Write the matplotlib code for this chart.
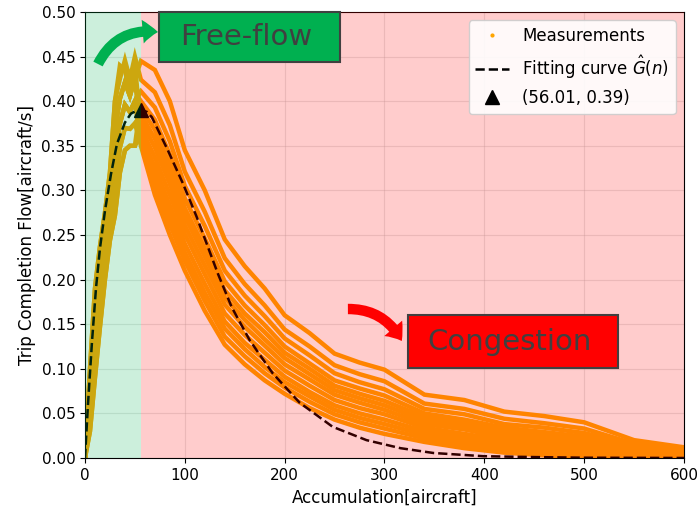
"""Trip completion flow vs. accumulation with fitted MFD curve."""

import matplotlib
matplotlib.use("Agg")
import matplotlib.pyplot as plt
from matplotlib.patches import FancyArrowPatch, Rectangle

# rising branch (free-flow side), shared accumulation grid
rise_n = [0, 5, 10, 15, 20, 25, 30, 35, 40, 45, 50]
# falling branch (congested side)
fall_n = [56, 70, 85, 100, 120, 140, 160, 180, 200, 225, 250, 275, 300,
          340, 380, 420, 460, 500, 550, 600]

# measured trip completion flow per run [aircraft/s]
run_01 = [0, .065, .14, .192, .238, .282, .336, .375, .396, .388, .40,
          .35, .295, .25, .21, .165, .127, .105, .087, .072, .056, .043, .034, .027,
          .018, .011, .006, .003, .001, .0, .0]
run_02 = [0, .048, .115, .17, .219, .263, .304, .348, .37, .369, .375,
          .352, .306, .262, .221, .176, .136, .114, .095, .079, .063, .049, .04, .033,
          .022, .015, .01, .007, .004, .002, .001]
run_03 = [0, .083, .165, .215, .256, .301, .368, .403, .421, .406, .425,
          .36, .316, .273, .23, .185, .145, .122, .102, .085, .069, .054, .045, .038,
          .026, .019, .013, .01, .007, .003, .002]
run_04 = [0, .03, .09, .147, .20, .244, .272, .32, .345, .35, .35,
          .362, .326, .283, .24, .195, .153, .129, .11, .091, .074, .059, .05, .043,
          .03, .023, .016, .013, .01, .004, .003]
run_05 = [0, .10, .19, .237, .275, .32, .40, .44, .435, .41, .44,
          .37, .337, .295, .251, .206, .162, .138, .118, .098, .081, .065, .056, .049,
          .034, .027, .02, .016, .013, .006, .004]
run_06 = [0, .065, .14, .192, .238, .282, .336, .375, .396, .388, .40,
          .378, .348, .307, .261, .216, .172, .147, .126, .105, .088, .071, .062, .054,
          .038, .032, .023, .02, .016, .008, .005]
run_07 = [0, .048, .115, .17, .219, .263, .304, .348, .37, .369, .375,
          .385, .358, .318, .271, .226, .18, .155, .133, .112, .094, .076, .067, .059,
          .042, .035, .027, .023, .019, .009, .005]
run_08 = [0, .083, .165, .215, .256, .301, .368, .403, .421, .406, .425,
          .392, .368, .328, .28, .235, .188, .162, .141, .118, .1, .081, .072, .064,
          .046, .039, .03, .026, .021, .01, .006]
run_09 = [0, .03, .09, .147, .20, .244, .272, .32, .345, .35, .35,
          .40, .379, .34, .291, .246, .198, .171, .149, .125, .106, .087, .078, .07,
          .05, .043, .034, .029, .024, .012, .007]
run_10 = [0, .065, .14, .192, .238, .282, .336, .375, .396, .388, .40,
          .411, .393, .355, .305, .26, .21, .182, .159, .134, .115, .095, .085, .077,
          .055, .049, .038, .034, .028, .014, .008]
run_11 = [0, .10, .19, .237, .275, .32, .40, .425, .446, .425, .45,
          .424, .41, .373, .321, .276, .224, .195, .171, .144, .125, .104, .094, .086,
          .061, .055, .044, .039, .033, .016, .01]
run_12 = [0, .083, .165, .215, .256, .301, .368, .403, .421, .406, .425,
          .445, .435, .40, .345, .30, .245, .215, .19, .16, .14, .117, .107, .099,
          .071, .065, .052, .047, .040, .020, .012]
runs = [run_01, run_02, run_03, run_04, run_05, run_06,
        run_07, run_08, run_09, run_10, run_11, run_12]

# fitted curve G_hat(n)
fit_n = [0, 3, 7, 11, 15, 20, 26, 32, 40, 46, 51, 56, 62, 67, 83, 98, 112, 122,
         133, 147, 165, 188, 215, 248, 282, 316, 349, 399, 450, 500, 600]
fit_g = [0, .06, .13, .19, .235, .277, .318, .352, .376, .386, .389, .39, .388,
         .382, .345, .308, .27, .24, .207, .169, .132, .095, .062, .035, .020,
         .011, .0056, .002, .001, .0003, 0]

peak_n, peak_g = 56.01, 0.39

fig = plt.figure(figsize=(7, 5.12), dpi=100)
ax = fig.add_axes([0.1214, 0.1055, 0.8557, 0.8711])

n_all = rise_n + fall_n
for run in runs:
    ax.plot(n_all, run, color="orange", lw=3.2, solid_joinstyle="miter", zorder=2)
ax.plot([], [], ls="none", marker=".", markersize=4, color="orange", label="Measurements")

ax.plot(fit_n, fit_g, color="black", ls="--", lw=1.8, zorder=2.5,
        label=r"Fitting curve $\hat{G}(n)$")
ax.plot([peak_n], [peak_g], ls="none", marker="^", markersize=10, color="black",
        zorder=2.6, label=f"({peak_n:.2f}, {peak_g:.2f})")

# regime shading drawn over the data
ax.axvspan(0, peak_n, color="#00b050", alpha=0.2, lw=0, zorder=3)
ax.axvspan(peak_n, 600, color="red", alpha=0.2, lw=0, zorder=3)

ax.set_xlim(0, 600)
ax.set_ylim(0, 0.5)
ax.set_xticks(range(0, 601, 100))
ax.set_yticks([i * 0.05 for i in range(11)])
ax.tick_params(labelsize=11)
ax.set_xlabel("Accumulation[aircraft]", fontsize=12)
ax.set_ylabel("Trip Completion Flow[aircraft/s]", fontsize=12)
ax.grid(True, alpha=0.3)
ax.legend(loc="upper right", fontsize=12, framealpha=0.9, labelspacing=0.5,
          borderaxespad=0.5)

# regime labels
for (x0, y0, w, h), label, fc, ty in [
    ((0.227, 0.879, 0.259, 0.098), "Free-flow", "#00b050", 0.928),
    ((0.583, 0.281, 0.300, 0.104), "Congestion", "#ff0000", 0.333),
]:
    fig.add_artist(Rectangle((x0, y0), w, h, transform=fig.transFigure,
                             facecolor=fc, edgecolor="#404040", lw=1.5, zorder=10))
    fig.text(x0 + w / 2 - 0.005, ty, label, fontsize=21, color="#404040",
             ha="center", va="center", zorder=11)

arrow_style = "simple,head_length=1.1,head_width=1.7,tail_width=0.75"
fig.add_artist(FancyArrowPatch((0.140, 0.875), (0.2257, 0.9375),
                               transform=fig.transFigure, connectionstyle="arc3,rad=-0.35",
                               arrowstyle=arrow_style, mutation_scale=10,
                               color="#00b050", lw=0, shrinkA=0, shrinkB=0, zorder=10))
fig.add_artist(FancyArrowPatch((0.497, 0.3965), (0.574, 0.334),
                               transform=fig.transFigure, connectionstyle="arc3,rad=-0.3",
                               arrowstyle=arrow_style, mutation_scale=10,
                               color="#ff0000", lw=0, shrinkA=0, shrinkB=0, zorder=10))

fig.savefig("out.png", dpi=100)
plt.close(fig)
